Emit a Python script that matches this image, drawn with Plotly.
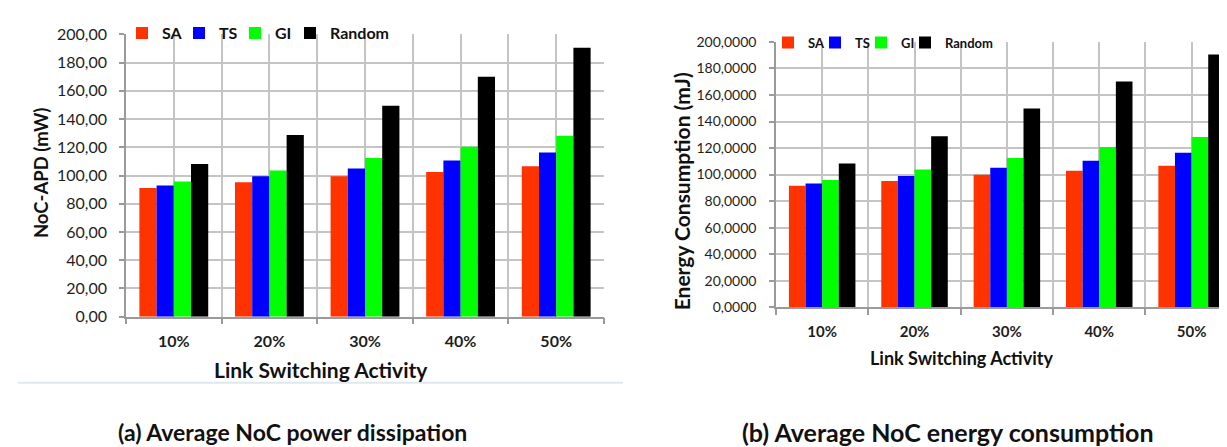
import plotly.graph_objects as go

W, H = 1227, 447

categories = ["10%", "20%", "30%", "40%", "50%"]
series_names = ["SA", "TS", "GI", "Random"]
colors = ["#FF3300", "#0000FF", "#00FF00", "#000000"]

# (a) NoC-APD in mW
sa_power = [91.2, 95.3, 99.5, 102.5, 106.5]
ts_power = [93.0, 99.5, 105.0, 110.6, 116.3]
gi_power = [95.7, 103.6, 112.4, 120.3, 128.2]
random_power = [108.1, 128.7, 149.4, 170.0, 190.5]

# (b) energy consumption in mJ
sa_energy = [91.6, 95.2, 99.8, 102.9, 106.7]
ts_energy = [93.3, 99.0, 105.1, 110.4, 116.4]
gi_energy = [95.9, 103.9, 112.5, 120.7, 128.4]
random_energy = [108.4, 128.9, 149.9, 170.1, 190.6]

y_ticks = [0, 20, 40, 60, 80, 100, 120, 140, 160, 180, 200]

FONT = "Lato, Open Sans, sans-serif"
GRID = "#c4c4c4"
TXT = "#1e1e1e"


def px_x(p):
    return p / W


def px_y(p):
    return 1 - p / H


x_pos = list(range(len(categories)))

# Excel-style legends are much tighter than plotly's, so every entry gets
# its own small legend box placed where the original key sits (pixel x of box)
left_keys = [114, 171, 227, 282]
right_keys = [760, 807, 853, 897]

fig = go.Figure()
power = [sa_power, ts_power, gi_power, random_power]
energy = [sa_energy, ts_energy, gi_energy, random_energy]
legend_cfg = {}


def legend_style(x, y, size):
    return dict(orientation="h", x=x, y=y, xanchor="left", yanchor="top",
                bgcolor="rgba(0,0,0,0)",
                font=dict(family=FONT, size=size, color="#111", weight="bold"),
                itemwidth=30, tracegroupgap=0)


for i, (name, col, vals) in enumerate(zip(series_names, colors, power)):
    key = "legend" if i == 0 else f"legend{i + 1}"
    fig.add_bar(x=x_pos, y=vals, name=name, marker_color=col, marker_line_width=0,
                xaxis="x", yaxis="y", legend=key)
    legend_cfg[key] = legend_style(px_x(left_keys[i]), px_y(-2), 16)
for i, (name, col, vals) in enumerate(zip(series_names, colors, energy)):
    key = f"legend{i + 5}"
    fig.add_bar(x=x_pos, y=vals, name=name, marker_color=col, marker_line_width=0,
                xaxis="x2", yaxis="y2", legend=key)
    legend_cfg[key] = legend_style(px_x(right_keys[i]), px_y(10), 13)


def xaxis_style(domain, anchor, rng, size, standoff):
    return dict(
        domain=domain, anchor=anchor, range=rng, tickmode="array",
        tickvals=x_pos, ticktext=categories, ticks="",
        showgrid=True, gridcolor=GRID, gridwidth=1.5,
        showline=True, linecolor="#9a9a9a", linewidth=1.5,
        minor=dict(tick0=-0.5, dtick=1, ticks="outside", ticklen=6,
                   tickcolor="#9a9a9a", tickwidth=1.5,
                   showgrid=True, gridcolor=GRID, gridwidth=1.5),
        tickfont=dict(family=FONT, size=size, color=TXT, weight="bold"),
        ticklabelstandoff=standoff, zeroline=False, fixedrange=True,
    )


def yaxis_style(domain, anchor, fmt, size, standoff):
    return dict(
        domain=domain, anchor=anchor, range=[0, 200], tickmode="array",
        tickvals=y_ticks, tickformat=fmt, ticks="outside", ticklen=5,
        tickcolor="#9a9a9a", tickwidth=1.5,
        showgrid=True, gridcolor=GRID, gridwidth=1.5,
        showline=True, linecolor="#9a9a9a", linewidth=1.5,
        tickfont=dict(family=FONT, size=size, color=TXT),
        ticklabelstandoff=standoff, zeroline=False, fixedrange=True,
    )


fig.update_layout(
    width=W, height=H,
    margin=dict(l=0, r=0, t=0, b=0),
    paper_bgcolor="white", plot_bgcolor="white",
    separators=", ",
    barmode="group", bargap=0.28, bargroupgap=0,
    xaxis=xaxis_style([px_x(118), px_x(596)], "y", [-0.5, 4.5], 16, 9),
    yaxis=yaxis_style([px_y(312), px_y(17)], "x", ".2f", 16, 9),
    xaxis2=xaxis_style([px_x(768), 1.0], "y2", [-0.5, 4.47], 15, 10),
    yaxis2=yaxis_style([px_y(302), px_y(25)], "x2", ".4f", 14, 10),
    showlegend=True,
    **legend_cfg,
)

ann = [
    dict(text="NoC-APD (mW)", x=px_x(33), y=px_y(162), textangle=-90, size=18.5),
    dict(text="Link Switching Activity", x=px_x(313), y=px_y(367), textangle=0, size=21),
    dict(text="Energy Consumption (mJ)", x=px_x(673), y=px_y(181), textangle=-90, size=21),
    dict(text="Link Switching Activity", x=px_x(953), y=px_y(355), textangle=0, size=18),
    dict(text="(a) Average NoC power dissipation", x=px_x(284), y=px_y(432), textangle=0, size=23),
    dict(text="(b) Average NoC energy consumption", x=px_x(940), y=px_y(432), textangle=0, size=25),
]
for a in ann:
    fig.add_annotation(text=a["text"], x=a["x"], y=a["y"], xref="paper", yref="paper",
                       xanchor="center", yanchor="middle", textangle=a["textangle"],
                       showarrow=False,
                       font=dict(family=FONT, size=a["size"], color="#111", weight="bold"))

# faint frame remnant under chart (a)
fig.add_shape(type="line", xref="paper", yref="paper",
              x0=px_x(10), x1=px_x(615), y0=px_y(381), y1=px_y(381),
              line=dict(color="#dfe8ec", width=2))

fig.write_html("out.html")
